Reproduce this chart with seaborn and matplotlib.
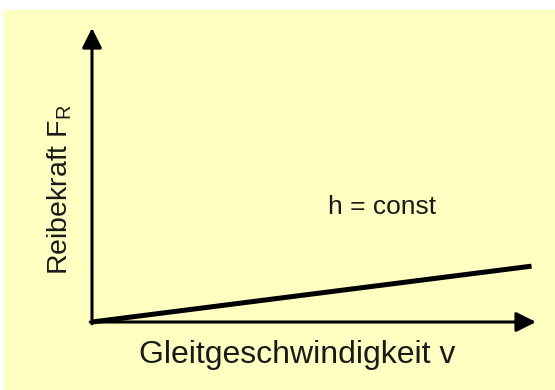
import matplotlib
matplotlib.use("Agg")
import matplotlib.pyplot as plt
from matplotlib.patches import Rectangle
import seaborn as sns
import pandas as pd

# Friction force rises linearly with sliding speed at constant gap height
speed = [0.0, 0.99]
friction = [0.0, 0.19]
x_label = "Gleitgeschwindigkeit v"
y_label = r"Reibekraft F$\mathregular{_R}$"
note = "h = const"

sns.set_theme(style="white")
plt.rcParams["font.family"] = ["Liberation Sans", "DejaVu Sans"]
plt.rcParams["mathtext.fontset"] = "custom"
plt.rcParams["mathtext.rm"] = "Liberation Sans"

W, H = 555, 390
fig = plt.figure(figsize=(W / 100, H / 100), dpi=100, facecolor="white")

# pale yellow slide background
fig.patches.append(Rectangle((4 / W, 0), 1 - 4 / W, 1 - 10 / H,
                             transform=fig.transFigure, facecolor="#FFFFC2",
                             edgecolor="none", zorder=-10))

# axes box: origin at (92, 322) px, arrow tips at x=536 and y=28
x0, y0, x1, y1 = 92, 322, 536, 28
ax = fig.add_axes([x0 / W, 1 - y0 / H, (x1 - x0) / W, (y0 - y1) / H])
ax.set_zorder(5)
ax.patch.set_alpha(0)
for s in ax.spines.values():
    s.set_visible(False)
ax.set_xticks([])
ax.set_yticks([])
ax.set_xlim(0, 1)
ax.set_ylim(0, 1)

df = pd.DataFrame({"v": speed, "F": friction})
sns.lineplot(data=df, x="v", y="F", ax=ax, color="black", linewidth=3.6,
             solid_capstyle="butt", legend=False, clip_on=False)
ax.set_xlabel("")
ax.set_ylabel("")

arrow = dict(arrowstyle="-|>,head_length=1.2,head_width=0.6",
             color="black", lw=2.2, mutation_scale=10, shrinkA=0, shrinkB=0)
ax.annotate("", xy=(1, 0), xytext=(-0.004, 0), xycoords="axes fraction",
            arrowprops=arrow, annotation_clip=False)
ax.annotate("", xy=(0, 1), xytext=(0, -0.006), xycoords="axes fraction",
            arrowprops=arrow, annotation_clip=False)

txt = "#1a1a1a"
fig.text(297 / W, 1 - 355 / H, x_label, ha="center", va="center",
         fontsize=23, color=txt)
fig.text(60 / W, 1 - 190 / H, y_label, ha="center", va="center",
         rotation=90, fontsize=20.5, color=txt)
fig.text(382 / W, 1 - 207 / H, note, ha="center", va="center",
         fontsize=19, color=txt)

fig.savefig("out.png", dpi=100, facecolor="white")
